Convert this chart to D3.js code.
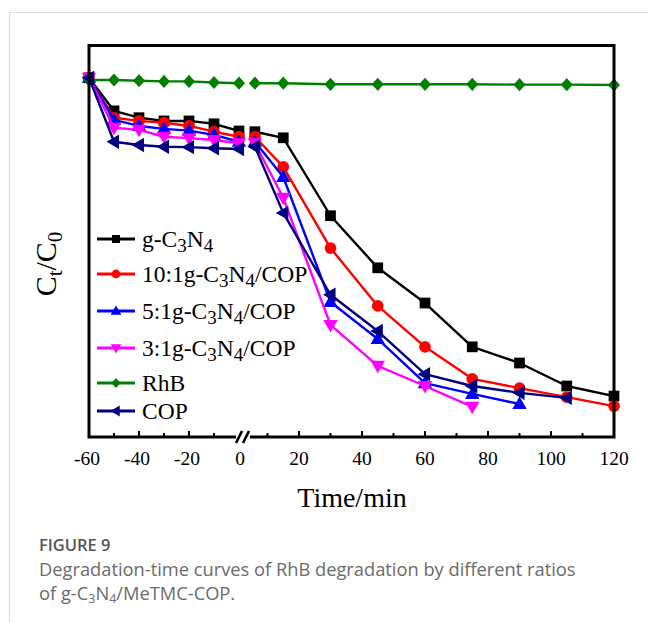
<!DOCTYPE html>
<html>
<head>
<meta charset="utf-8">
<script src="https://cdn.jsdelivr.net/npm/d3@7"></script>
<style>
  html, body { margin: 0; padding: 0; background: #fff; }
  svg { display: block; }
</style>
</head>
<body>
<svg id="chart" width="648" height="623"></svg>
<script>
// ---- data ----
const timesDark = [-60, -50, -40, -30, -20, -10, 0];
const timesLight = [6, 15, 30, 45, 60, 75, 90, 105, 120];

const seriesNames = ["g-C3N4", "10:1g-C3N4/COP", "5:1g-C3N4/COP", "3:1g-C3N4/COP", "RhB", "COP"];
const gC3N4Dark = [1.0, 0.908, 0.889, 0.880, 0.880, 0.872, 0.852];
const gC3N4Light = [0.850, 0.833, 0.616, 0.471, 0.373, 0.251, 0.206, 0.142, 0.114];
const r10Dark = [1.0, 0.889, 0.880, 0.875, 0.866, 0.850, 0.836];
const r10Light = [0.836, 0.752, 0.526, 0.365, 0.251, 0.162, 0.136, 0.111, 0.086];
const r5Dark = [1.0, 0.883, 0.866, 0.858, 0.853, 0.841, 0.822];
const r5Light = [0.822, 0.724, 0.376, 0.273, 0.150, 0.120, 0.092];
const r3Dark = [1.0, 0.861, 0.855, 0.836, 0.832, 0.827, 0.818];
const r3Light = [0.818, 0.666, 0.312, 0.198, 0.142, 0.084];
const rhbDark = [0.994, 0.994, 0.992, 0.990, 0.990, 0.987, 0.985];
const rhbLight = [0.985, 0.985, 0.982, 0.982, 0.982, 0.982, 0.981, 0.981, 0.980];
const copDark = [1.0, 0.822, 0.813, 0.808, 0.807, 0.804, 0.802];
const copLight = [0.808, 0.624, 0.396, 0.295, 0.175, 0.142, 0.123, 0.109];

const darkTickLabels = [-60, -40, -20, 0];
const lightTickLabels = [20, 40, 60, 80, 100, 120];
const darkMinor = [-50, -30, -10];
const lightMinor = [10, 30, 50, 70, 90, 110];

const colors = ["#000000", "#ff0000", "#0000ff", "#ff00ff", "#008000", "#000080"];
const symbols = ["square", "circle", "triUp", "triDown", "diamond", "triLeft"];

const series = [
  {name: seriesNames[0], dark: gC3N4Dark, light: gC3N4Light},
  {name: seriesNames[1], dark: r10Dark, light: r10Light},
  {name: seriesNames[2], dark: r5Dark, light: r5Light},
  {name: seriesNames[3], dark: r3Dark, light: r3Light},
  {name: seriesNames[4], dark: rhbDark, light: rhbLight},
  {name: seriesNames[5], dark: copDark, light: copLight}
];

// ---- layout ----
const svg = d3.select("#chart");
const pL = 89, pR = 614, pT = 45.5, pB = 437;
const serif = "'Liberation Serif', 'Times New Roman', serif";
const sans = "'Open Sans', 'Noto Sans', sans-serif";

const xDark = d3.scaleLinear().domain([-60, 0]).range([pL, 239]);
const xLight = d3.scaleLinear().domain([0, 120]).range([236, pR]);
const y = d3.scaleLinear().domain([0, 1.09]).range([pB, pT]);

// frame of figure
svg.append("line").attr("x1", 9.5).attr("x2", 648).attr("y1", 12.5).attr("y2", 12.5)
  .attr("stroke", "#dcdcdc").attr("stroke-width", 1);
svg.append("line").attr("x1", 9.5).attr("x2", 9.5).attr("y1", 12.5).attr("y2", 623)
  .attr("stroke", "#dcdcdc").attr("stroke-width", 1);

function markerPath(sym, s) {
  if (sym === "triUp") return `M0,${-s*0.62}L${s*0.6},${s*0.42}L${-s*0.6},${s*0.42}Z`;
  if (sym === "triDown") return `M0,${s*0.62}L${s*0.6},${-s*0.42}L${-s*0.6},${-s*0.42}Z`;
  if (sym === "triLeft") return `M${-s*0.62},0L${s*0.42},${-s*0.6}L${s*0.42},${s*0.6}Z`;
  if (sym === "diamond") return `M0,${-s*0.55}L${s*0.5},0L0,${s*0.55}L${-s*0.5},0Z`;
  if (sym === "square") return d3.symbol().type(d3.symbolSquare).size(s*s*0.8)();
  return d3.symbol().type(d3.symbolCircle).size(s*s*0.75)();
}

const plot = svg.append("g");
const line = d3.line();

series.forEach((s, i) => {
  const g = plot.append("g");
  const darkPts = timesDark.map((t, k) => [xDark(t), y(s.dark[k])]);
  const lightPts = s.light.map((v, k) => [xLight(timesLight[k]), y(v)]);
  [darkPts, lightPts].forEach(pts => {
    g.append("path").attr("d", line(pts)).attr("fill", "none")
      .attr("stroke", colors[i]).attr("stroke-width", 2.4).attr("stroke-linejoin", "round");
  });
  darkPts.concat(lightPts).forEach(p => {
    g.append("path").attr("d", markerPath(symbols[i], 12))
      .attr("transform", `translate(${p[0]},${p[1]})`).attr("fill", colors[i]);
  });
});

// plot frame
const frame = svg.append("g").attr("stroke", "#000").attr("stroke-width", 3).attr("fill", "none");
frame.append("path").attr("d", `M236,${pB}H${pL}V${pT}H${pR}V${pB}H250`);
frame.append("line").attr("x1", 236).attr("y1", pB + 6).attr("x2", 242).attr("y2", pB - 6).attr("stroke-width", 2.6);
frame.append("line").attr("x1", 243).attr("y1", pB + 6).attr("x2", 249).attr("y2", pB - 6).attr("stroke-width", 2.6);

// ticks (inward)
const ticks = svg.append("g").attr("stroke", "#000").attr("stroke-width", 2);
darkTickLabels.filter(t => t !== -60 && t !== 0).forEach(t => {
  ticks.append("line").attr("x1", xDark(t)).attr("x2", xDark(t)).attr("y1", pB).attr("y2", pB - 6);
});
darkMinor.forEach(t => {
  ticks.append("line").attr("x1", xDark(t)).attr("x2", xDark(t)).attr("y1", pB).attr("y2", pB - 4);
});
lightTickLabels.filter(t => t !== 120).forEach(t => {
  ticks.append("line").attr("x1", xLight(t)).attr("x2", xLight(t)).attr("y1", pB).attr("y2", pB - 6);
});
lightMinor.forEach(t => {
  ticks.append("line").attr("x1", xLight(t)).attr("x2", xLight(t)).attr("y1", pB).attr("y2", pB - 4);
});

// tick labels
const tl = svg.append("g").attr("font-family", serif).attr("font-size", 19.5).attr("fill", "#000").attr("text-anchor", "middle");
darkTickLabels.forEach(t => {
  tl.append("text").attr("x", xDark(t) + (t === 0 ? 1 : -2)).attr("y", 465).text(t);
});
lightTickLabels.forEach(t => {
  tl.append("text").attr("x", xLight(t)).attr("y", 465).text(t);
});

// axis titles
svg.append("text").attr("x", 352).attr("y", 507).attr("text-anchor", "middle")
  .attr("font-family", serif).attr("font-size", 28).text("Time/min");

const yt = svg.append("text").attr("transform", "translate(56,264) rotate(-90)")
  .attr("text-anchor", "middle").attr("font-family", serif).attr("font-size", 30);
yt.append("tspan").text("C");
yt.append("tspan").attr("font-size", 21).attr("dy", 6).text("t");
yt.append("tspan").attr("dy", -6).text("/C");
yt.append("tspan").attr("font-size", 21).attr("dy", 6).text("0");

// rich text helper: digits after C/N become subscripts
function appendChem(txt, name, subSize, shift) {
  const parts = name.match(/\d+:\d+|[CN]\d|[^CN\d]+|[CN]|\d+/g);
  let down = false;
  parts.forEach(p => {
    const m = p.match(/^([CN])(\d)$/);
    if (m) {
      const a = txt.append("tspan").text(m[1]);
      if (down) { a.attr("dy", -shift); down = false; }
      txt.append("tspan").attr("font-size", subSize).attr("dy", shift).text(m[2]);
      down = true;
    } else {
      const a = txt.append("tspan").text(p);
      if (down) { a.attr("dy", -shift); down = false; }
    }
  });
}

// legend
const legendY = [239, 274, 311, 348, 383, 411];
const legend = svg.append("g");
series.forEach((s, i) => {
  const ly = legendY[i];
  legend.append("line").attr("x1", 97).attr("x2", 135).attr("y1", ly).attr("y2", ly)
    .attr("stroke", colors[i]).attr("stroke-width", 3.2);
  legend.append("path").attr("d", markerPath(symbols[i], 9)).attr("transform", `translate(116,${ly})`).attr("fill", colors[i]);
  const txt = legend.append("text").attr("x", 142).attr("y", ly + 7.5)
    .attr("font-family", serif).attr("font-size", 23.5).attr("fill", "#000");
  appendChem(txt, s.name, 19, 5.5);
});

// caption
const cap = svg.append("g").attr("font-family", sans).attr("fill", "#6b6b6b");
cap.append("text").attr("x", 39).attr("y", 551).attr("font-size", 16.5).attr("font-weight", 600).attr("fill", "#555").text("FIGURE 9");
cap.append("text").attr("x", 39).attr("y", 576).attr("font-size", 18.3).text("Degradation-time curves of RhB degradation by different ratios");
const c3 = cap.append("text").attr("x", 39).attr("y", 600).attr("font-size", 18.3);
c3.append("tspan").text("of g-C");
c3.append("tspan").attr("font-size", 12.5).attr("dy", 3).text("3");
c3.append("tspan").attr("dy", -3).text("N");
c3.append("tspan").attr("font-size", 12.5).attr("dy", 3).text("4");
c3.append("tspan").attr("dy", -3).text("/MeTMC-COP.");
</script>
</body>
</html>
